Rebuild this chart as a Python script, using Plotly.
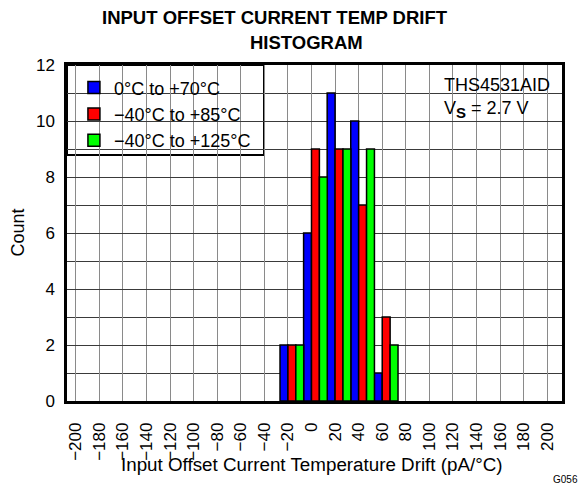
import plotly.graph_objects as go

# Data
bins = [-20, 0, 20, 40, 60]
series_names = ["0°C to +70°C", "\u221240°C to +85°C", "\u221240°C to +125°C"]
count_0_70 = [2, 6, 11, 10, 1]
count_m40_85 = [2, 9, 9, 7, 3]
count_m40_125 = [2, 8, 9, 9, 2]
x_ticks = list(range(-200, 201, 20))
y_ticks = list(range(0, 13, 2))

FONT = "Liberation Sans, Arial, sans-serif"
colors = ["#0000FF", "#FF0000", "#00FF00"]
offsets = [-6.7, 0.0, 6.7]
series = [count_0_70, count_m40_85, count_m40_125]

fig = go.Figure()
for name, vals, col, off in zip(series_names, series, colors, offsets):
    fig.add_trace(go.Bar(
        x=bins, y=vals, name=name,
        marker=dict(color=col, line=dict(color="black", width=1.5)),
        width=6.7, offset=off,
    ))

# page has an 8px body margin, so the figure is sized/shifted to compensate
fig.update_layout(
    width=578, height=481,
    margin=dict(l=59, r=24, t=57, b=88),
    paper_bgcolor="white", plot_bgcolor="white",
    barmode="overlay",
    font=dict(family=FONT, size=17, color="black"),
    showlegend=True,
    legend=dict(
        x=0.014, y=0.987, xanchor="left", yanchor="top",
        bgcolor="rgba(0,0,0,0)", borderwidth=0,
        font=dict(size=18, family=FONT),
        itemwidth=30, tracegroupgap=0,
    ),
)

fig.update_xaxes(
    range=[-207.4, 212.5],
    tickmode="array", tickvals=x_ticks,
    ticktext=[("\u2212" + str(-v)) if v < 0 else str(v) for v in x_ticks],
    tickangle=-90, tickfont=dict(size=17),
    ticks="", ticklabelstandoff=12,
    showgrid=True, gridcolor="#8a8a8a", gridwidth=1,
    zeroline=False,
    showline=True, linecolor="black", linewidth=2.5, mirror=True,
)
fig.update_yaxes(
    range=[0, 12],
    tickmode="array", tickvals=y_ticks,
    tickfont=dict(size=17), ticks="", ticklabelstandoff=6,
    showgrid=True, gridcolor="#3a3a3a", gridwidth=1,
    minor=dict(dtick=1, showgrid=True, gridcolor="#3a3a3a", gridwidth=1),
    zeroline=False,
    showline=True, linecolor="black", linewidth=2.5, mirror=True,
)

# Legend box and annotation background box
fig.add_shape(type="rect", xref="paper", yref="paper",
              x0=0, x1=0.398, y0=0.732, y1=1,
              fillcolor="white", line=dict(color="black", width=2), layer="between")
fig.add_shape(type="rect", xref="paper", yref="paper",
              x0=0.729, x1=1, y0=0.804, y1=1,
              fillcolor="white", line=dict(width=0), layer="between")

annotations = [
    dict(text="<b>INPUT OFFSET CURRENT TEMP DRIFT</b>", x=0.42, y=1.14,
         font=dict(size=18.5)),
    dict(text="<b>HISTOGRAM</b>", x=0.483, y=1.068, font=dict(size=18.5)),
    dict(text="THS4531AID<br>V<sub><b><span style='font-size:15px'>S</span></b></sub> = 2.7 V",
         x=0.758, y=0.975, xanchor="left", yanchor="top", align="left",
         font=dict(size=18)),
    dict(text="Count", x=-0.1, y=0.5, textangle=-90, font=dict(size=18)),
    dict(text="Input Offset Current Temperature Drift (pA/°C)", x=0.495, y=-0.19,
         font=dict(size=18.8)),
    dict(text="G056", x=1.008, y=-0.235, font=dict(size=10)),
]
for a in annotations:
    base = dict(xref="paper", yref="paper", showarrow=False,
                xanchor="center", yanchor="middle")
    base.update(a)
    fig.add_annotation(**base)

fig.write_html("out.html")
